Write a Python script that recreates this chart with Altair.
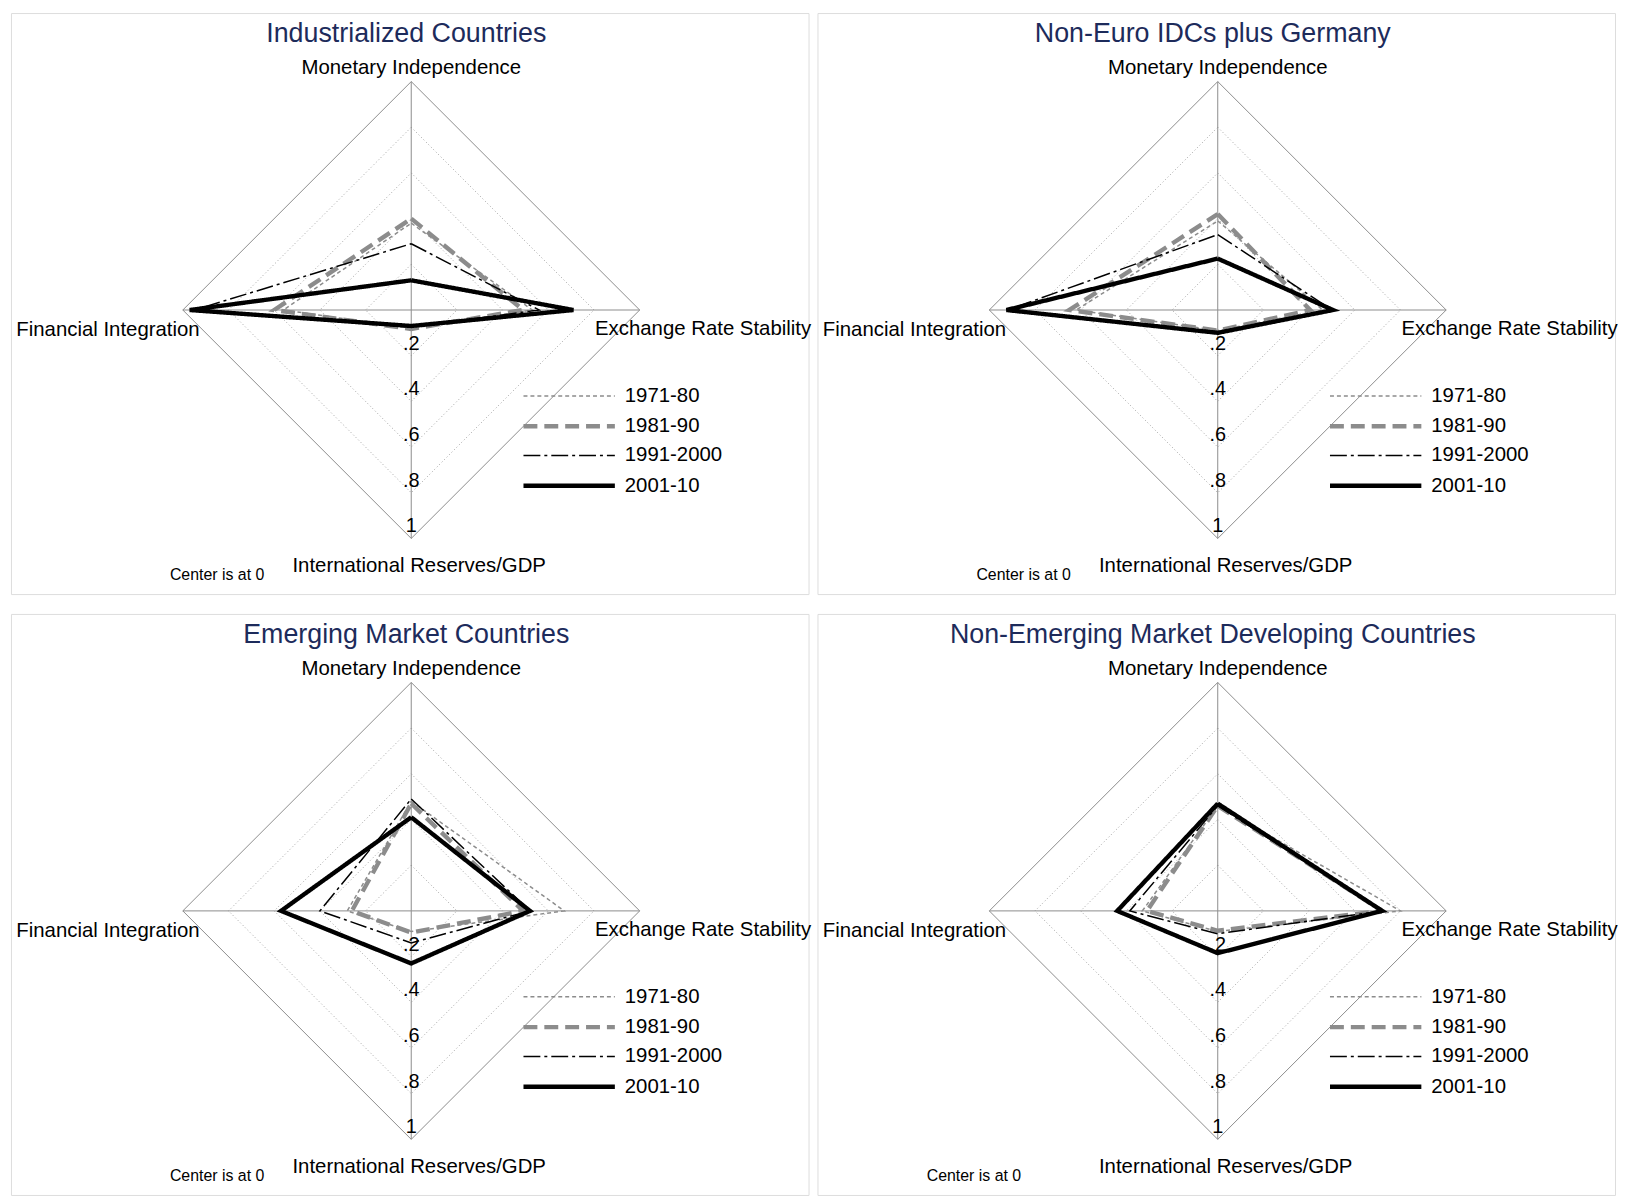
import altair as alt
import pandas as pd

# ---------------- data ----------------
AXES = ["Monetary Independence", "Exchange Rate Stability",
        "International Reserves/GDP", "Financial Integration"]
PERIODS = ["1971-80", "1981-90", "1991-2000", "2001-10"]
TICKS = [0.2, 0.4, 0.6, 0.8, 1.0]
TICK_LABELS = [".2", ".4", ".6", ".8", "1"]
TITLES = ["Industrialized Countries", "Non-Euro IDCs plus Germany",
          "Emerging Market Countries", "Non-Emerging Market Developing Countries"]

# values per period, in order: MI, ERS, IR/GDP, FI
IDC_1971 = [0.38, 0.53, 0.08, 0.56]
IDC_1981 = [0.40, 0.49, 0.083, 0.60]
IDC_1991 = [0.29, 0.56, 0.075, 0.95]
IDC_2001 = [0.13, 0.71, 0.07, 0.97]

NEU_1971 = [0.39, 0.46, 0.09, 0.62]
NEU_1981 = [0.42, 0.405, 0.09, 0.65]
NEU_1991 = [0.33, 0.50, 0.095, 0.92]
NEU_2001 = [0.225, 0.505, 0.10, 0.925]

EMG_1971 = [0.48, 0.67, 0.09, 0.28]
EMG_1981 = [0.47, 0.49, 0.095, 0.26]
EMG_1991 = [0.49, 0.52, 0.14, 0.40]
EMG_2001 = [0.41, 0.52, 0.23, 0.57]

LDC_1971 = [0.46, 0.80, 0.09, 0.33]
LDC_1981 = [0.46, 0.72, 0.087, 0.31]
LDC_1991 = [0.46, 0.72, 0.10, 0.385]
LDC_2001 = [0.47, 0.72, 0.185, 0.44]

PANEL_VALUES = [
    [IDC_1971, IDC_1981, IDC_1991, IDC_2001],
    [NEU_1971, NEU_1981, NEU_1991, NEU_2001],
    [EMG_1971, EMG_1981, EMG_1991, EMG_2001],
    [LDC_1971, LDC_1981, LDC_1991, LDC_2001],
]
NOTE_X = [160, 160, 160, 110]

# ---------------- style ----------------
FONT = "Liberation Sans, Arial, Helvetica, sans-serif"
W, H = 803, 585
CX, CY, R = 403, 299, 230
XS = alt.Scale(domain=[-CX / R, (W - CX) / R], nice=False, zero=False)
YS = alt.Scale(domain=[-(H - CY) / R, CY / R], nice=False, zero=False)

XEXPR = "datum.value * (datum.k == 1 ? 1 : (datum.k == 3 ? -1 : 0))"
YEXPR = "datum.value * (datum.k == 0 ? 1 : (datum.k == 2 ? -1 : 0))"

GRAY = "#8c8c8c"
LINE_COLORS = [GRAY, GRAY, "black", "black"]
LINE_DASH = [[4, 3], [14, 7], [17, 4, 3, 4], [1, 0]]
LINE_WIDTHS = [1.5, 1.5, 4.4, 1.5, 4.4]  # threshold range: (<first), then one per period

START = [int(p[:4]) for p in PERIODS]
LABEL_EXPR = "'" + PERIODS[-1] + "'"
for s, p in reversed(list(zip(START[:-1], PERIODS[:-1]))):
    LABEL_EXPR = f"datum.value == {s} ? '{p}' : ({LABEL_EXPR})"


def xq():
    return alt.X("x:Q", scale=XS, axis=None)


def yq():
    return alt.Y("y:Q", scale=YS, axis=None)


def build_panel(title, vals, note_x):
    recs = []
    for s, v in zip(START, vals):
        for j in range(5):
            recs.append({"start": s, "k": j % 4, "ord": j, "value": v[j % 4]})
    lines_df = pd.DataFrame(recs)

    ring_recs = []
    for lv in TICKS:
        for j in range(5):
            ring_recs.append({"level": lv, "k": j % 4, "ord": j, "value": lv})
    rings_df = pd.DataFrame(ring_recs)

    spokes_df = pd.DataFrame({"k": [0, 1, 2, 3], "value": [1.0] * 4})
    ticks_df = pd.DataFrame({"value": TICKS, "label": TICK_LABELS, "k": [2] * len(TICKS)})
    axes_df = pd.DataFrame({"name": AXES, "k": [0, 1, 2, 3], "value": [1.0] * 4})

    inner = alt.Chart(rings_df).transform_filter("datum.level < 1").transform_calculate(
        x=XEXPR, y=YEXPR
    ).mark_line(color="#a0a0a0", strokeWidth=1, strokeDash=[1, 2.5]).encode(
        x=xq(), y=yq(), detail="level:N", order="ord:Q"
    )
    outer = alt.Chart(rings_df).transform_filter("datum.level >= 1").transform_calculate(
        x=XEXPR, y=YEXPR
    ).mark_line(color=GRAY, strokeWidth=1).encode(
        x=xq(), y=yq(), order="ord:Q"
    )
    spokes = alt.Chart(spokes_df).transform_calculate(
        x=XEXPR, y=YEXPR, x0="0", y0="0"
    ).mark_rule(color=GRAY, strokeWidth=1).encode(
        x=xq(), y=yq(), x2="x0:Q", y2="y0:Q"
    )

    legend = alt.Legend(
        orient="none", legendX=548, legendY=373, symbolType="M-4,0H4",
        symbolSize=529, symbolStrokeWidth=1.5, labelFontSize=20.5, labelFont=FONT,
        labelColor="black", labelOffset=42, rowPadding=6, padding=0,
        labelExpr=LABEL_EXPR,
    )
    lines = alt.Chart(lines_df).transform_calculate(
        x=XEXPR, y=YEXPR
    ).mark_line(strokeJoin="miter", strokeCap="butt").encode(
        x=xq(), y=yq(), order="ord:Q",
        color=alt.Color("start:N", title=None,
                        scale=alt.Scale(domain=START, range=LINE_COLORS),
                        legend=legend),
        strokeDash=alt.StrokeDash("start:N", title=None,
                                  scale=alt.Scale(domain=START, range=LINE_DASH),
                                  legend=legend),
        strokeWidth=alt.StrokeWidth("start:Q", title=None,
                                    scale=alt.Scale(type="threshold", domain=START,
                                                    range=LINE_WIDTHS),
                                    legend=legend),
    )

    tick_text = alt.Chart(ticks_df).transform_calculate(
        x=XEXPR, y=YEXPR
    ).mark_text(align="center", baseline="alphabetic", fontSize=20, font=FONT,
                color="black", dy=-6).encode(x=xq(), y=yq(), text="label:N")

    def axis_label(k, **kw):
        return alt.Chart(axes_df).transform_filter(f"datum.k == {k}").transform_calculate(
            x=XEXPR, y=YEXPR
        ).mark_text(fontSize=20.5, font=FONT, color="black", **kw).encode(
            x=xq(), y=yq(), text="name:N"
        )

    lab_top = axis_label(0, align="center", baseline="bottom", dy=-4)
    lab_right = axis_label(1, align="left", baseline="middle", dx=-45, dy=19)
    lab_bottom = axis_label(2, align="center", baseline="middle", dx=8, dy=28)
    lab_left = axis_label(3, align="right", baseline="middle", dx=17, dy=20)

    one = pd.DataFrame({"t": [title]})
    title_mark = alt.Chart(one).mark_text(
        fontSize=27, font=FONT, color="#1d2b5b", align="center", baseline="middle"
    ).encode(x=alt.value(398), y=alt.value(21), text="t:N")
    note = alt.Chart(pd.DataFrame({"t": ["Center is at 0"]})).mark_text(
        fontSize=16, font=FONT, color="black", align="left", baseline="middle"
    ).encode(x=alt.value(note_x), y=alt.value(566), text="t:N")

    return alt.layer(
        inner, outer, spokes, lines, tick_text,
        lab_top, lab_right, lab_bottom, lab_left, title_mark, note
    ).properties(width=W, height=H)


panels = [build_panel(t, v, n) for t, v, n in zip(TITLES, PANEL_VALUES, NOTE_X)]

indep = dict(color="independent", strokeDash="independent", strokeWidth="independent")
row1 = alt.hconcat(panels[0], panels[1], spacing=4).resolve_scale(**indep).resolve_legend(**indep)
row2 = alt.hconcat(panels[2], panels[3], spacing=4).resolve_scale(**indep).resolve_legend(**indep)

chart = alt.vconcat(row1, row2, spacing=18).resolve_scale(**indep).resolve_legend(
    **indep
).properties(
    padding={"left": 2, "top": 0, "right": 0, "bottom": 0}
).configure_view(stroke="#dde5ea", strokeWidth=1).configure(background="white")

chart.save("out.html", embed_options={"renderer": "svg", "actions": False})
